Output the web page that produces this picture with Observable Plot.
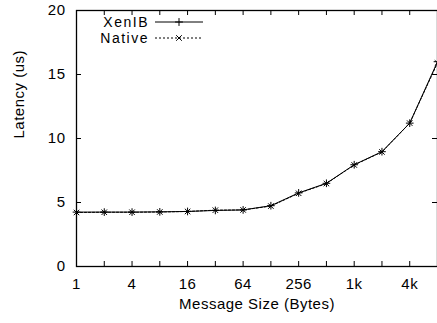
<!DOCTYPE html>
<html>
<head>
<meta charset="utf-8">
<script src="https://cdn.jsdelivr.net/npm/d3@7"></script>
<script src="https://cdn.jsdelivr.net/npm/@observablehq/plot@0.6"></script>
<style>
  html, body { margin: 0; padding: 0; background: #fff; }
  #chart { position: relative; width: 437px; height: 323px; }
  #legend { position: absolute; left: 0; top: 0; }
</style>
</head>
<body>
<div id="chart"></div>
<script>
// ---- data ----
const sizes = [1, 2, 4, 8, 16, 32, 64, 128, 256, 512, 1024, 2048, 4096, 8192];
const xenib = [4.25, 4.25, 4.25, 4.27, 4.3, 4.38, 4.42, 4.75, 5.75, 6.5, 7.95, 8.97, 11.2, 16.0];
const native = [4.22, 4.24, 4.24, 4.26, 4.3, 4.4, 4.42, 4.72, 5.72, 6.48, 7.93, 8.95, 11.2, 15.9];
const seriesNames = ["XenIB", "Native"];
const xTickValues = [1, 2, 4, 8, 16, 32, 64, 128, 256, 512, 1024, 2048, 4096, 8192];
const xLabelValues = [1, 4, 16, 64, 256, 1024, 4096];
const xLabelText = ["1", "4", "16", "64", "256", "1k", "4k"];
const yTickValues = [0, 5, 10, 15, 20];
const xTitle = "Message Size (Bytes)";
const yTitle = "Latency (us)";

// ---- layout ----
const W = 437, H = 323;
const mL = 76, mR = 0, mT = 10, mB = 57;
const plotW = W - mL - mR, plotH = H - mT - mB;
const tick = 5;
const font = "'Liberation Sans', Arial, Helvetica, sans-serif";

const rowsX = sizes.map((s, i) => ({size: s, latency: xenib[i]}));
const rowsN = sizes.map((s, i) => ({size: s, latency: native[i]}));

const chart = Plot.plot({
  width: W, height: H,
  marginLeft: mL, marginRight: mR, marginTop: mT, marginBottom: mB,
  style: {fontFamily: font, fontSize: "15px", letterSpacing: "0.5px", color: "black", background: "white"},
  x: {type: "log", base: 2, domain: [1, 8192], axis: null},
  y: {domain: [0, 20], axis: null},
  marks: [
    // tick labels
    Plot.axisX(xLabelValues, {anchor: "bottom", tickSize: 0, tickPadding: 12, label: null,
      tickFormat: (d) => xLabelText[xLabelValues.indexOf(d)], fontSize: 15}),
    Plot.axisY(yTickValues, {anchor: "left", tickSize: 0, tickPadding: 11, label: null, fontSize: 15}),
    // inward ticks (bottom, top, left, right)
    Plot.tickX(xTickValues, {x: (d) => d, insetTop: plotH - tick, stroke: "black", strokeWidth: 1}),
    Plot.tickX(xTickValues, {x: (d) => d, insetBottom: plotH - tick, stroke: "black", strokeWidth: 1}),
    Plot.tickY(yTickValues, {y: (d) => d, insetRight: plotW - tick, stroke: "black", strokeWidth: 1}),
    Plot.tickY(yTickValues, {y: (d) => d, insetLeft: plotW - tick, stroke: "black", strokeWidth: 1}),
    // series
    Plot.line(rowsN, {x: "size", y: "latency", stroke: "black", strokeWidth: 1, strokeDasharray: "2,2"}),
    Plot.line(rowsX, {x: "size", y: "latency", stroke: "black", strokeWidth: 1}),
    Plot.dot(rowsX, {x: "size", y: "latency", symbol: "plus", r: 2.6, stroke: "black", strokeWidth: 1, fill: "none"}),
    Plot.dot(rowsN, {x: "size", y: "latency", symbol: "times", r: 2.6, stroke: "black", strokeWidth: 1, fill: "none"}),
    // frame
    Plot.frame({stroke: "black", strokeWidth: 1.3}),
    // axis titles
    Plot.text([xTitle], {text: (d) => d, frameAnchor: "bottom", dy: 42, fontSize: 15}),
    Plot.text([yTitle], {text: (d) => d, frameAnchor: "left", rotate: -90, dx: -57, fontSize: 15})
  ]
});
document.getElementById("chart").appendChild(chart);

// ---- legend (inside plot, top-left) ----
const lg = d3.select("#chart").append("svg").attr("id", "legend")
  .attr("width", 220).attr("height", 50)
  .style("font-family", font).style("font-size", "14px").style("letter-spacing", "1.5px");
const legendRows = [
  {name: seriesNames[0], y: 22, dash: null, sym: d3.symbolPlus},
  {name: seriesNames[1], y: 38, dash: "2,2", sym: d3.symbolTimes}
];
legendRows.forEach((r) => {
  lg.append("text").attr("x", 149).attr("y", r.y).attr("dy", "0.36em")
    .attr("text-anchor", "end").attr("fill", "black").text(r.name);
  lg.append("line").attr("x1", 155).attr("x2", 203).attr("y1", r.y).attr("y2", r.y)
    .attr("stroke", "black").attr("stroke-width", 1).attr("stroke-dasharray", r.dash);
  lg.append("path").attr("transform", `translate(179,${r.y})`)
    .attr("d", d3.symbol(r.sym, 22)()).attr("stroke", "black").attr("fill", "none");
});
</script>
</body>
</html>
